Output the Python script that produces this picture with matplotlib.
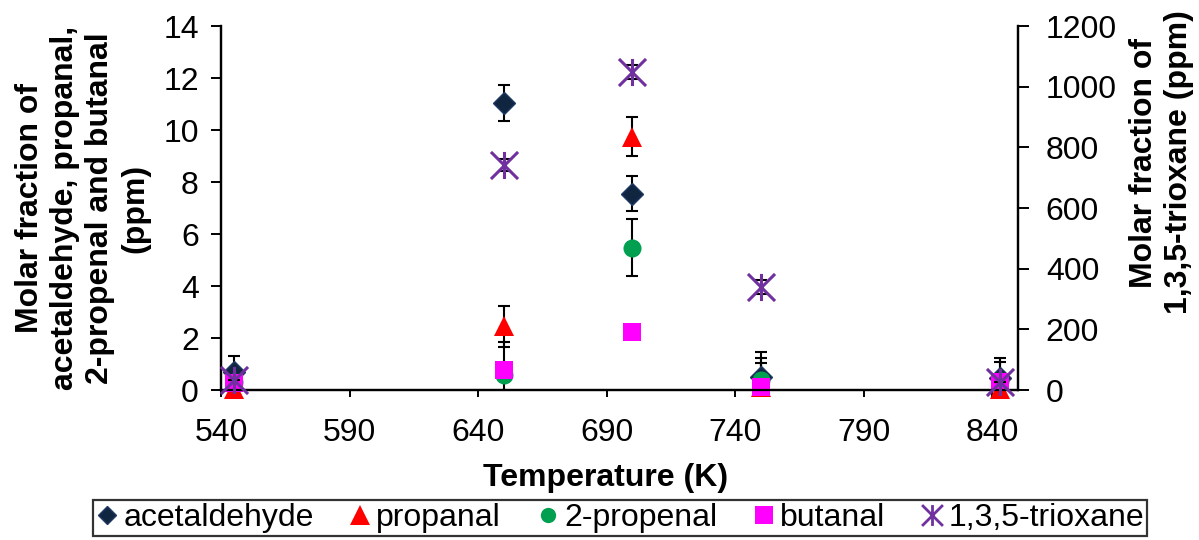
import matplotlib
matplotlib.use("Agg")
import matplotlib.pyplot as plt
from matplotlib.lines import Line2D
from matplotlib.path import Path

plt.rcParams['font.family'] = ['Liberation Sans', 'DejaVu Sans']

temps = [545, 650, 700, 750, 843]

acetaldehyde = [0.7, 11.05, 7.55, 0.5, 0.45]
acetaldehyde_err = [0.6, 0.7, 0.68, 0.97, 0.78]
propanal = [0.05, 2.45, 9.75, 0.1, 0.05]
propanal_err = [0.0, 0.78, 0.75, 0.94, 0.0]
propenal = [0.3, 0.58, 5.47, 0.4, 0.35]
propenal_err = [0.0, 1.27, 1.1, 0.83, 0.73]
butanal = [0.27, 0.77, 2.23, 0.1, 0.3]
butanal_err = [0.0, 0.0, 0.0, 0.0, 0.0]
trioxane = [33, 742, 1048, 340, 26]
trioxane_err = [0, 20, 22, 22, 0]

xticks = [540, 590, 640, 690, 740, 790, 840]
yticks_left = [0, 2, 4, 6, 8, 10, 12, 14]
yticks_right = [0, 200, 400, 600, 800, 1000, 1200]

# excel style star: X plus a vertical bar
star = Path([(0, -1), (0, 1), (-1, -1), (1, 1), (-1, 1), (1, -1)],
            [Path.MOVETO, Path.LINETO, Path.MOVETO, Path.LINETO, Path.MOVETO, Path.LINETO])

FS = 23

fig = plt.figure(figsize=(11.99, 5.4), dpi=100)
ax = fig.add_axes([221 / 1199, 1 - 390 / 540, 797 / 1199, 364 / 540])
ax2 = ax.twinx()

left_series = [
    ("acetaldehyde", acetaldehyde, acetaldehyde_err, dict(marker='D', ms=11.2, mfc='#10253F', mec='#1F3864', mew=1)),
    ("propanal", propanal, propanal_err, dict(marker='^', ms=14.4, mfc='#FF0000', mec='#FF0000', mew=0)),
    ("2-propenal", propenal, propenal_err, dict(marker='o', ms=13, mfc='#00A050', mec='#00A050', mew=0)),
    ("butanal", butanal, butanal_err, dict(marker='s', ms=13, mfc='#FF00FF', mec='#FF00FF', mew=0)),
]

for name, vals, errs, style in left_series:
    ax.errorbar(temps, vals, yerr=errs, fmt='none', ecolor='black', elinewidth=1.5,
                capsize=4.3, capthick=1.5)
    ax.plot(temps, vals, linestyle='none', clip_on=False, zorder=5, **style)

ax2.errorbar(temps, trioxane, yerr=trioxane_err, fmt='none', ecolor='black', elinewidth=1.5,
             capsize=4.3, capthick=1.5)
ax2.plot(temps, trioxane, linestyle='none', marker=star, ms=19.5, mec='#7030A0', mew=2.2,
         clip_on=False, zorder=5)

ax.set_xlim(540, 850)
ax.set_ylim(0, 14)
ax2.set_ylim(0, 1200)
ax.set_xticks(xticks)
ax.set_yticks(yticks_left)
ax2.set_yticks(yticks_right)

for a in (ax, ax2):
    a.spines['top'].set_visible(False)
    for s in a.spines.values():
        s.set_linewidth(1.6)
    a.tick_params(labelsize=FS, width=1.4, length=7, pad=9, direction='out')
ax.tick_params(axis='x', length=5, pad=15)
ax2.tick_params(axis='y', length=8, pad=12)

ax.set_xlabel("Temperature (K)", fontsize=FS, fontweight='bold')
ax.xaxis.set_label_coords(0.482, -0.242)
ax.xaxis.label.set_va('center')
ax.set_ylabel("Molar fraction of\nacetaldehyde, propanal,\n2-propenal and butanal\n(ppm)",
              fontsize=FS, fontweight='bold', linespacing=1.22)
ax.yaxis.set_label_coords(-0.174, 0.5)
ax.yaxis.label.set_va('center')
ax2.set_ylabel("Molar fraction of\n1,3,5-trioxane (ppm)", fontsize=FS, fontweight='bold',
               rotation=90, linespacing=1.2)
ax2.yaxis.set_label_coords(1.18, 0.625)
ax2.yaxis.label.set_va('center')
ax2.yaxis.label.set_ha('center')

handles = [
    Line2D([], [], linestyle='none', marker='D', ms=9, mfc='#10253F', mec='#1F3864'),
    Line2D([], [], linestyle='none', marker='^', ms=14, mfc='#FF0000', mec='#FF0000', mew=0),
    Line2D([], [], linestyle='none', marker='o', ms=11, mfc='#00A050', mec='#00A050', mew=0),
    Line2D([], [], linestyle='none', marker='s', ms=12.5, mfc='#FF00FF', mec='#FF00FF', mew=0),
    Line2D([], [], linestyle='none', marker=star, ms=15, mec='#7030A0', mew=2),
]
labels = ["acetaldehyde", "propanal", "2-propenal", "butanal", "1,3,5-trioxane"]
leg = fig.legend(handles, labels, loc='upper center', bbox_to_anchor=(620 / 1199, 1 - 500 / 540),
                 ncol=5, fontsize=FS, frameon=True, fancybox=False, edgecolor='black',
                 handlelength=0.7, handletextpad=0.15, columnspacing=1.12, borderpad=0.1,
                 borderaxespad=0)
leg.get_frame().set_linewidth(1.6)

fig.savefig("out.png", dpi=100)
